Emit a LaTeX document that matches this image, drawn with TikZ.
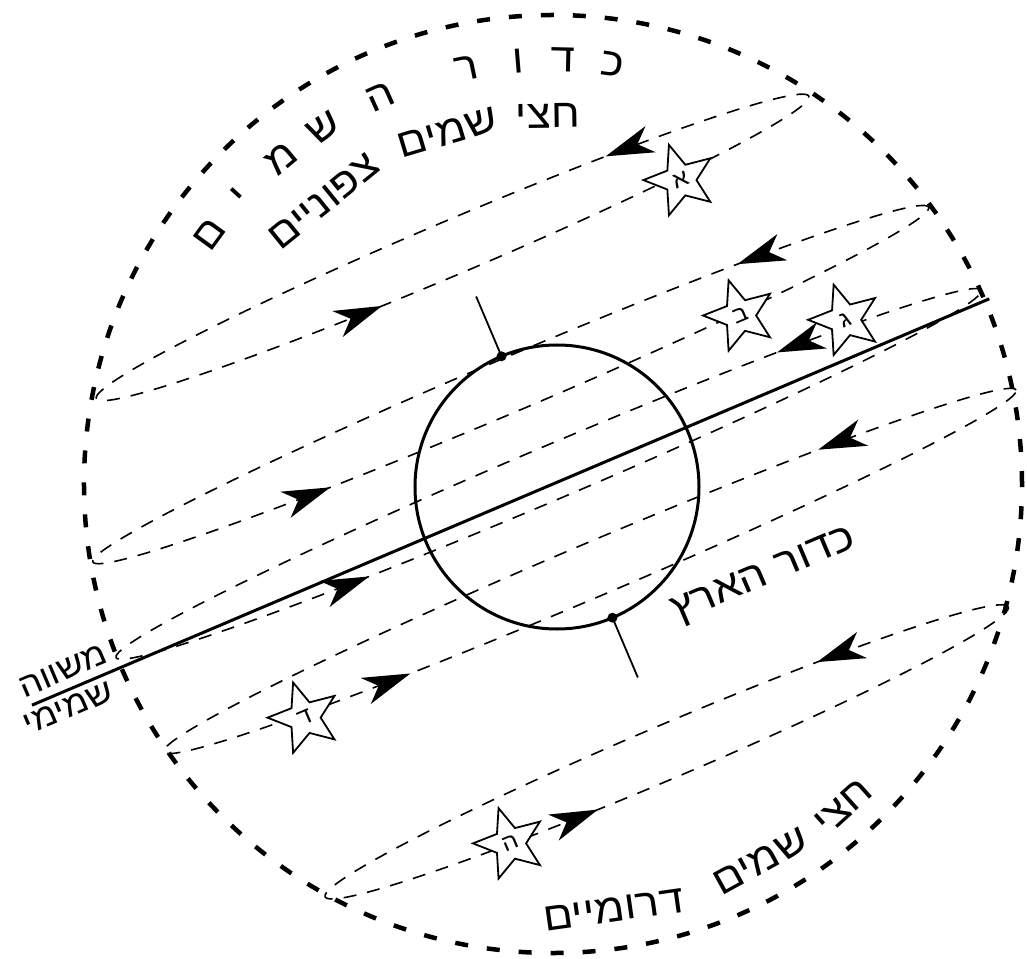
\documentclass[tikz,border=0pt]{standalone}
\usepackage{fontspec}
\newfontfamily\hebfont[Script=Hebrew, FakeStretch=1.1]{Liberation Sans}
\TeXXeTstate=1
\usetikzlibrary{positioning, arrows.meta, calc, shapes.geometric, decorations.markings}

\tikzset{
  skyline/.style={line width=4.5pt, dash pattern=on 13pt off 19pt},
  orbit/.style={line width=1.6pt, dash pattern=on 13pt off 11pt},
  heb/.style={font=\hebfont\fontsize{40}{40}\selectfont, inner sep=0pt},
  sideheb/.style={font=\hebfont\fontsize{33}{33}\selectfont, inner sep=0pt},
  smallheb/.style={font=\hebfont\fontsize{23}{23}\selectfont},
  starnode/.style={star, star points=5, star point ratio=2.3, minimum size=74pt,
    inner sep=0pt, draw, line width=1.8pt, fill=white, rotate=23,
    shape border rotate=-5, smallheb},
  motion/.tip={Stealth[length=48pt, width=28pt, inset=14pt]}
}

\begin{document}
\begin{tikzpicture}[x=1pt, y=1pt]
    \useasboundingbox (-553,-474) rectangle (474,484);
    % Celestial sphere
    \draw[skyline] (0,0) circle [radius=469];
    % Daily paths, parallel to the equator
    \begin{scope}[rotate=23]
        \foreach \v/\a/\lo/\up in {257/387/-87/175, 108/454/-205/254, 11/470/-204/256,
                                   -94.5/463/-204/256, -291/371/-85/172} {
            \pgfmathsetmacro\fup{(\a-\up)/(4*\a)}
            \pgfmathsetmacro\flo{0.5+(\lo+\a)/(4*\a)}
            \draw[orbit, postaction={decorate, decoration={markings,
                    mark=at position \fup with {\arrow{motion}},
                    mark=at position \flo with {\arrow{motion}}}}]
                (0,\v) ellipse [x radius=\a, y radius=27];
        }
        % Celestial equator
        \coordinate (eqW) at (-566,0);
        \coordinate (eqE) at (474,0);
        \draw[line width=3pt] (eqW) -- (eqE);
        % Stars
        \node[starnode] (alef)  at (236,230)   {א};
        \node[starnode] (bet)   at (238,82)    {ב};
        \node[starnode] (gimel) at (333,37)    {ג};
        \node[starnode] (dalet) at (-320,-118) {ד};
        \node[starnode] (he)    at (-180,-314) {ה};
    \end{scope}
    % Earth and its axis
    \node[circle, draw, line width=3pt, minimum size=284pt, inner sep=0pt, outer sep=0pt] (earth) at (4,-3) {};
    \draw[line width=1.8pt] (earth.113) -- ($(earth.center)!207pt!(earth.113)$);
    \draw[line width=1.8pt] (earth.-67) -- ($(earth.center)!207pt!(earth.-67)$);
    \fill (earth.113) circle [radius=5];
    \fill (earth.-67) circle [radius=5];
    % Labels
    \foreach \ch/\ang [count=\k] in {כ/81.9, ד/88.6, ו/94.7, ר/101.7, ה/114.1,
                                     ש/122.8, מ/129.9, י/137.5, ם/144.0}
        \node[heb, anchor=base, rotate=\ang-90] (sky\k) at (\ang:412) {\ch};
    \node[heb, anchor=base, rotate=0.8]  (northA) at (90.8:356)  {\beginR חצי\endR};
    \node[heb, anchor=base, rotate=16.7] (northB) at (106.7:355) {\beginR שמים\endR};
    \node[heb, anchor=base, rotate=39]   (northC) at (129:352)   {\beginR צפוניים\endR};
    \node[heb, anchor=base, rotate=42]   (southA) at (-48:446)   {\beginR חצי\endR};
    \node[heb, anchor=base, rotate=28.8] (southB) at (-61.2:443) {\beginR שמים\endR};
    \node[heb, anchor=base, rotate=8.1]  (southC) at (-81.9:442) {\beginR דרומיים\endR};
    \node[heb, rotate=23] (earthname) at (211,-93)  {\beginR כדור הארץ\endR};
    \node[sideheb, rotate=23] (eqtop) at (-490,-187) {\beginR משווה\endR};
    \node[sideheb, rotate=23] (eqbot) at (-485,-224) {\beginR שמימי\endR};
\end{tikzpicture}
\end{document}
